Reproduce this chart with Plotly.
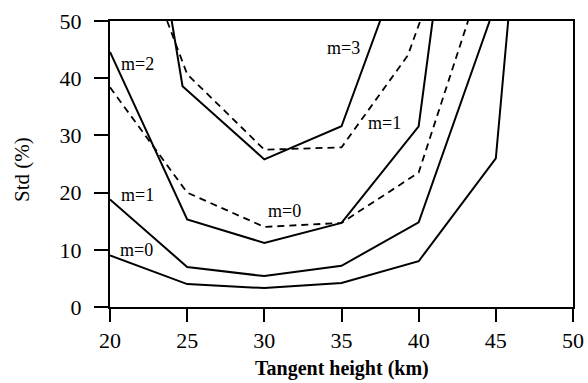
import plotly.graph_objects as go

# Tangent height (km) and Std (%) per curve
h_m0 = [20, 25, 30, 35, 40, 45, 45.8]
s_m0 = [9.0, 4.0, 3.3, 4.2, 8.0, 26.0, 50.0]

h_m1 = [20, 25, 30, 35, 40, 44.6]
s_m1 = [18.8, 7.0, 5.4, 7.2, 14.8, 50.0]

h_m2 = [20, 25, 30, 35, 40, 40.9]
s_m2 = [44.6, 15.3, 11.2, 14.7, 31.6, 50.0]

h_m3 = [24.0, 24.7, 30, 35, 37.5]
s_m3 = [50.0, 38.6, 25.8, 31.6, 50.0]

h_d1 = [23.7, 25, 30, 35, 39.3, 40.1]
s_d1 = [50.0, 40.7, 27.5, 27.9, 44.0, 50.0]

h_d0 = [20, 25, 30, 35, 40, 43.2]
s_d0 = [38.4, 20.0, 14.0, 14.7, 23.5, 50.0]

label_text = ["m=2", "m=1", "m=0", "m=3", "m=1", "m=0"]
label_x = [21.8, 21.8, 21.7, 35.1, 37.8, 31.3]
label_y = [42.5, 19.6, 10.0, 45.3, 32.1, 16.8]

x_ticks = [20, 25, 30, 35, 40, 45, 50]
y_ticks = [0, 10, 20, 30, 40, 50]

x_title = "<b>Tangent height (km)</b>"
y_title = "Std (%)"

SERIF = "Liberation Serif, Times New Roman, serif"

fig = go.Figure()
solid = dict(color="black", width=2)
dashed = dict(color="black", width=1.8, dash="7px,5px")
for hx, sy in [(h_m0, s_m0), (h_m1, s_m1), (h_m2, s_m2), (h_m3, s_m3)]:
    fig.add_trace(go.Scatter(x=hx, y=sy, mode="lines", line=solid, showlegend=False))
for hx, sy in [(h_d1, s_d1), (h_d0, s_d0)]:
    fig.add_trace(go.Scatter(x=hx, y=sy, mode="lines", line=dashed, showlegend=False))

for t, lx, ly in zip(label_text, label_x, label_y):
    fig.add_annotation(x=lx, y=ly, xref="x", yref="y", text=t, showarrow=False,
                       font=dict(family=SERIF, size=18, color="black"))

# axis titles
fig.add_annotation(x=0.5, y=0, xref="paper", yref="paper", yshift=-61,
                   yanchor="middle", xanchor="center", text=x_title, showarrow=False,
                   font=dict(family=SERIF, size=20, color="black"))
fig.add_annotation(x=0, y=0.5, xref="paper", yref="paper", xshift=-88, yshift=-6,
                   xanchor="center", yanchor="middle", textangle=-90, text=y_title,
                   showarrow=False, font=dict(family=SERIF, size=21, color="black"))

fig.update_layout(
    width=588, height=383,
    margin=dict(l=110, r=15, t=21, b=76),
    paper_bgcolor="white", plot_bgcolor="white",
    font=dict(family=SERIF, color="black"),
)
fig.update_xaxes(
    range=[20, 50], tickvals=x_ticks, ticktext=[str(v) for v in x_ticks],
    ticks="outside", ticklen=13, tickwidth=2, automargin=False,
    tickcolor="black", showline=True, linecolor="black", linewidth=2, mirror=True,
    showgrid=False, zeroline=False, tickfont=dict(family=SERIF, size=22, color="black"),
)
fig.update_yaxes(
    range=[0, 50], tickvals=y_ticks, ticktext=[str(v) for v in y_ticks],
    ticks="outside", ticklen=14, tickwidth=2, automargin=False,
    tickcolor="black", showline=True, linecolor="black", linewidth=2, mirror=True,
    showgrid=False, zeroline=False, tickfont=dict(family=SERIF, size=22, color="black"),
    ticklabelstandoff=8,
)
fig.write_html("out.html")
